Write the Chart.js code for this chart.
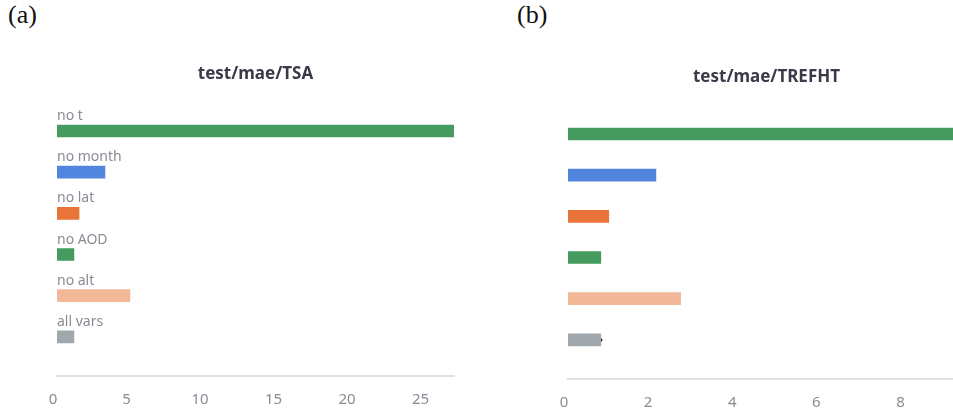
<!DOCTYPE html>
<html>
<head>
<meta charset="utf-8">
<script src="https://cdn.jsdelivr.net/npm/chart.js@4.4.1/dist/chart.umd.min.js"></script>
<style>
    html, body { margin: 0; padding: 0; background: #fff; }
    body { width: 953px; height: 413px; position: relative; overflow: hidden; }
    .panel { position: absolute; top: 0; width: 480px; height: 428px; }
    .tag { position: absolute; top: 0; font-family: "Liberation Serif", "DejaVu Serif", serif; font-size: 26px; color: #111; }
</style>
</head>
<body>
<div class="tag" style="left:8px">(a)</div>
<div class="tag" style="left:517px">(b)</div>
<div class="panel" style="left:0"><canvas id="chartTSA" width="480" height="428"></canvas></div>
<div class="panel" style="left:511px"><canvas id="chartTREFHT" width="480" height="428"></canvas></div>
<script>
// Runs de test: una barra por variable eliminada
const runLabels = ['no t', 'no month', 'no lat', 'no AOD', 'no alt', 'all vars'];
const runColors = ['#459b5e', '#5286de', '#e8743a', '#459b5e', '#f2b898', '#a1a8ab'];

const maeTSA = [27.0, 3.26, 1.5, 1.15, 4.96, 1.15];
const maeTREFHT = [9.44, 2.09, 0.97, 0.78, 2.68, 0.78];

const tickStepTSA = 5;
const tickStepTREFHT = 2;

// Nombres de los runs escritos encima de cada barra
const runNamesPlugin = {
    id: 'runNames',
    afterDatasetsDraw(chart, args, opts) {
        if (!opts.show) return;
        const ctx = chart.ctx;
        const yScale = chart.scales.y;
        ctx.save();
        ctx.font = '14px "Noto Sans", sans-serif';
        ctx.fillStyle = '#8b8b95';
        ctx.textBaseline = 'alphabetic';
        ctx.textAlign = 'left';
        runLabels.forEach(function (name, i) {
            const y = yScale.getPixelForValue(i) - 6 - 5;
            ctx.fillText(name, chart.chartArea.left, y);
        });
        ctx.restore();
    }
};

function buildChart(canvasId, title, values, step, showNames, padTop, padBottom, extra) {
    const points = values.map((v, i) => ({ x: v, y: i }));
    const datasets = [{
        type: 'bar',
        indexAxis: 'y',
        data: points,
        backgroundColor: runColors,
        borderWidth: 0,
        barThickness: 12
    }];
    if (extra) datasets.push(extra);

    return new Chart(document.getElementById(canvasId), {
        type: 'bar',
        data: { datasets: datasets },
        options: {
            responsive: false,
            animation: false,
            indexAxis: 'y',
            layout: {
                padding: { left: 57, right: 26, top: padTop, bottom: padBottom }
            },
            plugins: {
                legend: { display: false },
                tooltip: { enabled: false },
                title: {
                    display: true,
                    text: title,
                    fullSize: false,
                    color: '#3a3a48',
                    font: { family: '"Noto Sans", sans-serif', size: 17, weight: 'bold' },
                    padding: { top: 64, bottom: 26 }
                },
                runNames: { show: showNames }
            },
            scales: {
                x: {
                    type: 'linear',
                    min: 0,
                    max: Math.max(...values),
                    grid: { display: false, drawTicks: false },
                    border: { display: true, color: '#e1e1e3', width: 2 },
                    ticks: {
                        stepSize: step,
                        includeBounds: false,
                        labelOffset: -4,
                        padding: 15,
                        color: '#8b8b95',
                        font: { family: '"Noto Sans", sans-serif', size: 15 }
                    }
                },
                y: {
                    type: 'linear',
                    reverse: true,
                    offset: false,
                    min: -0.5,
                    max: 5.95,
                    display: false
                }
            }
        },
        plugins: [runNamesPlugin]
    });
}

buildChart('chartTSA', 'test/mae/TSA', maeTSA, tickStepTSA, true, 0, 4, null);

// Marcador negro al final de la barra "all vars"
const allVarsMarker = {
    type: 'scatter',
    data: [{ x: maeTREFHT[5], y: 5 }],
    pointRadius: 1.6,
    pointBackgroundColor: '#000',
    pointBorderWidth: 0
};
buildChart('chartTREFHT', 'test/mae/TREFHT', maeTREFHT, tickStepTREFHT, false, 3, 1, allVarsMarker);
</script>
</body>
</html>
